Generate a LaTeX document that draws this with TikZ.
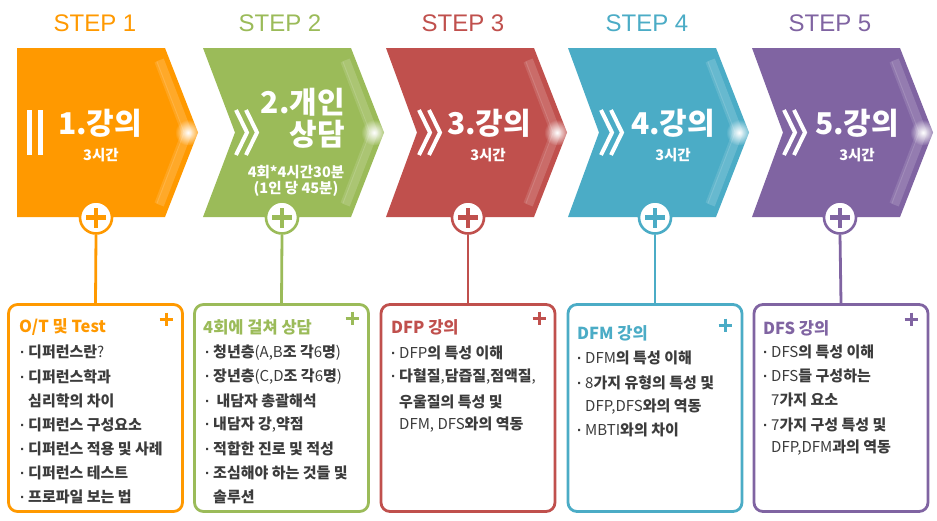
\documentclass[tikz,border=0pt]{standalone}
\usepackage{fontspec}
\setmainfont{Noto Sans CJK KR}
\newfontfamily\stepfont{Liberation Sans}
\usetikzlibrary{fadings}
\definecolor{cO}{HTML}{FF9900}
\definecolor{cG}{HTML}{9BBB59}
\definecolor{cR}{HTML}{C0504D}
\definecolor{cB}{HTML}{4BACC6}
\definecolor{cP}{HTML}{8064A2}
\definecolor{txtgray}{HTML}{3C3C3C}
\tikzfading[name=glowfade, inner color=transparent!0, outer color=transparent!100]
\newcommand\bul{\makebox[8pt][l]{\stepfont\bfseries\fontsize{15}{15}\selectfont ·}}
\newcommand\ind{\hspace*{8pt}}
\newcommand\lat[1]{{\mdseries #1}}
\newcommand\chevshape[3]{%
 \fill[#3] (#1,48) -- (#1+148,48) -- (#1+181,132.5) -- (#1+148,217) -- (#1,217) -- (#1+#2,132.5) -- cycle;
 \begin{scope}
 \clip (#1,48) -- (#1+148,48) -- (#1+181,132.5) -- (#1+148,217) -- (#1,217) -- (#1+#2,132.5) -- cycle;
 \draw[white, opacity=0.16, line width=8pt, line join=round] (#1+143,60) -- (#1+171,132.5) -- (#1+143,205);
 \draw[white, opacity=0.12, line width=3pt, line join=round] (#1+139,62) -- (#1+166,132.5) -- (#1+139,203);
 \fill[white, path fading=glowfade] (#1+171,132.5) circle (13);
 \end{scope}
}
\newcommand\dchev[1]{%
 \draw[white, line width=4pt, line join=miter] (#1+1,110) -- (#1+12,132.5) -- (#1+1,155);
 \draw[white, line width=4pt, line join=miter] (#1+11,110) -- (#1+22,132.5) -- (#1+11,155);
}
\newcommand\boxplus[3]{%
 \draw[#3, line width=3pt] (#1-6.5,#2) -- (#1+6.5,#2) (#1,#2-6.5) -- (#1,#2+6.5);
}
\tikzset{
 plusc/.style={circle, draw=#1, fill=white, line width=2.6pt, minimum size=32pt, inner sep=0pt},
 infobox/.style={draw=#1, line width=2.8pt, rounded corners=9pt, minimum width=174pt, minimum height=207pt, inner sep=0pt},
 steplabel/.style={text=#1, font=\stepfont\fontsize{24}{24}\selectfont, inner sep=0pt},
 bigtxt/.style={text=white, font=\bfseries\fontsize{30}{34}\selectfont, inner sep=0pt},
 smalltxt/.style={text=white, font=\bfseries\fontsize{14.5}{16}\selectfont, inner sep=0pt},
 boxtitle/.style={text=#1, font=\bfseries\fontsize{16.5}{18}\selectfont, anchor=west, inner sep=0pt},
 itemtxt/.style={text=txtgray, font=\bfseries\fontsize{15}{16}\selectfont, anchor=west, inner sep=0pt},
 conn/.style={draw=#1, line width=2.8pt},
}
\begin{document}
\begin{tikzpicture}[x=1pt,y=-1pt]
\useasboundingbox[fill=white] (0,0) rectangle (937,520);
% step labels
\node[steplabel=cO] (st1) at (95,23) {STEP 1};
\node[steplabel=cG] (st2) at (280,23) {STEP 2};
\node[steplabel=cR] (st3) at (463,23) {STEP 3};
\node[steplabel=cB] (st4) at (647,23) {STEP 4};
\node[steplabel=cP] (st5) at (830,23) {STEP 5};
% chevrons
\chevshape{17}{0}{cO}
\chevshape{203}{32}{cG}
\chevshape{386}{31}{cR}
\chevshape{568}{31}{cB}
\chevshape{752}{31}{cP}
% marks
\fill[white] (27,110) rectangle (32,155);
\fill[white] (38,110) rectangle (43,155);
\dchev{235}
\dchev{418}
\dchev{600}
\dchev{783}
% shape texts
\node[bigtxt] (s1a) at (100,123) {1.강의};
\node[smalltxt] (s1b) at (101,155) {3시간};
\node[bigtxt, anchor=east] (s2a) at (345,102) {2.개인};
\node[bigtxt, anchor=east] (s2b) at (345,134) {상담};
\node[smalltxt] (s2c) at (296,172) {4회*4시간30분};
\node[smalltxt] (s2d) at (296,189) {(1인 당 45분)};
\node[bigtxt] (s3a) at (489,123) {3.강의};
\node[smalltxt] (s3b) at (488,155) {3시간};
\node[bigtxt] (s4a) at (673,123) {4.강의};
\node[smalltxt] (s4b) at (673,155) {3시간};
\node[bigtxt] (s5a) at (857,123) {5.강의};
\node[smalltxt] (s5b) at (857,155) {3시간};
% boxes
\node[infobox=cO] (b1) at (95.5,408) {};
\node[infobox=cG] (b2) at (281.5,408) {};
\node[infobox=cR] (b3) at (468,408) {};
\node[infobox=cB] (b4) at (655,408) {};
\node[infobox=cP] (b5) at (841,408) {};
% circles
\node[plusc=cO] (p1) at (96,217.5) {};
\node[plusc=cG] (p2) at (282,217.5) {};
\node[plusc=cR] (p3) at (468,217.5) {};
\node[plusc=cB] (p4) at (655,217.5) {};
\node[plusc=cP] (p5) at (840,217.5) {};
\foreach \p/\c in {p1/cO,p2/cG,p3/cR,p4/cB,p5/cP}{
 \draw[\c, line width=4.5pt] ([xshift=-10pt]\p.center) -- ([xshift=10pt]\p.center);
 \draw[\c, line width=4.5pt] ([yshift=-10pt]\p.center) -- ([yshift=10pt]\p.center);
}
% connectors
\draw[conn=cO] (p1.south) -- (b1.north);
\draw[conn=cG] (p2.south) -- (b2.north);
\draw[conn=cR] (p3.south) -- (b3.north);
\draw[conn=cB] (p4.south) -- (b4.north);
\draw[conn=cP] (p5.south) -- (b5.north);
% box plus signs
\boxplus{166}{319}{cO}
\boxplus{352}{318}{cG}
\boxplus{539}{318}{cR}
\boxplus{725}{325}{cB}
\boxplus{911}{319}{cP}
% box 1
\node[boxtitle=cO] (t1) at (19,327) {O/T 및 Test};
\node[itemtxt] (i11) at (20,352) {\bul 디퍼런스란\lat{?}};
\node[itemtxt] (i12) at (20,377) {\bul 디퍼런스학과};
\node[itemtxt] (i13) at (20,401) {\ind 심리학의 차이};
\node[itemtxt] (i14) at (20,425) {\bul 디퍼런스 구성요소};
\node[itemtxt] (i15) at (20,449) {\bul 디퍼런스 적용 및 사례};
\node[itemtxt] (i16) at (20,473) {\bul 디퍼런스 테스트};
\node[itemtxt] (i17) at (20,497) {\bul 프로파일 보는 법};
% box 2
\node[boxtitle=cG] (t2) at (203,327) {4회에 걸쳐 상담};
\node[itemtxt] (i21) at (205,353) {\bul 청년층\lat{(A,B}조 각\lat{6}명\lat{)}};
\node[itemtxt] (i22) at (205,377) {\bul 장년층\lat{(C,D}조 각\lat{6}명\lat{)}};
\node[itemtxt] (i23) at (205,401) {\bul \ 내담자 총괄해석};
\node[itemtxt] (i24) at (205,425) {\bul 내담자 강\lat{,}약점};
\node[itemtxt] (i25) at (205,449) {\bul 적합한 진로 및 적성};
\node[itemtxt] (i26) at (205,473) {\bul 조심해야 하는 것들 및};
\node[itemtxt] (i27) at (205,497) {\ind 솔루션};
% box 3
\node[boxtitle=cR] (t3) at (391,327) {DFP 강의};
\node[itemtxt] (i31) at (391,353) {\bul \lat{DFP}의 특성 이해};
\node[itemtxt] (i32) at (391,377) {\bul 다혈질\lat{,}담즙질\lat{,}점액질\lat{,}};
\node[itemtxt] (i33) at (391,402) {\ind 우울질의 특성 및};
\node[itemtxt] (i34) at (391,425) {\ind \lat{DFM, DFS}와의 역동};
% box 4
\node[boxtitle=cB] (t4) at (577,333) {DFM 강의};
\node[itemtxt] (i41) at (577,358) {\bul \lat{DFM}의 특성 이해};
\node[itemtxt] (i42) at (577,383) {\bul \lat{8}가지 유형의 특성 및};
\node[itemtxt] (i43) at (577,407) {\ind \lat{DFP,DFS}와의 역동};
\node[itemtxt] (i44) at (577,430) {\bul \lat{MBTI}와의 차이};
% box 5
\node[boxtitle=cP] (t5) at (763,328) {DFS 강의};
\node[itemtxt] (i51) at (763,352) {\bul \lat{DFS}의 특성 이해};
\node[itemtxt] (i52) at (763,376) {\bul \lat{DFS}들 구성하는};
\node[itemtxt] (i53) at (763,400) {\ind \lat{7}가지 요소};
\node[itemtxt] (i54) at (763,425) {\bul \lat{7}가지 구성 특성 및};
\node[itemtxt] (i55) at (763,448) {\ind \lat{DFP,DFM}과의 역동};
\end{tikzpicture}
\end{document}
